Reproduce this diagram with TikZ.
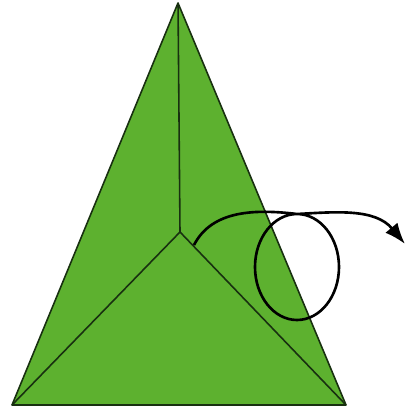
\documentclass[tikz,border=0pt]{standalone}
\usepackage{xcolor}
\usepackage{tikz}
\usetikzlibrary{calc,arrows.meta}
\definecolor{leafGreen}{HTML}{5DB12F}
\definecolor{edgeDark}{HTML}{183010}

\begin{document}
\begin{tikzpicture}[
        x=0.02cm, y=-0.02cm,
        face/.style={fill=leafGreen, draw=edgeDark, line width=0.9pt, line join=round},
        fold/.style={draw=edgeDark, line width=0.9pt},
        turn/.style={-{Latex[length=12pt,width=9pt]}, line width=1.5pt, draw=black}
    ]
        \useasboundingbox (0,0) rectangle (406,412);

        % --- corners of the pyramid ---
        \coordinate (apex) at (178,3);
        \coordinate (baseL) at (12,405);
        \coordinate (baseR) at (346,405);
        \coordinate (mid) at (180,232);

        % --- faces and fold lines ---
        \filldraw[face] (apex) -- (baseL) -- (baseR) -- cycle;
        \draw[fold] (mid) -- (apex);
        \draw[fold] (mid) -- (baseL);
        \draw[fold] (mid) -- (baseR);

        % --- rotation arrow with a loop ---
        \coordinate (turnStart) at (194,245);
        \coordinate (loopTop) at (297,214);
        \coordinate (turnEnd) at (405,244);
        \draw[turn] (turnStart) .. controls (212,210) and (255,209) .. (loopTop)
            arc[start angle=270, end angle=630, x radius=42, y radius=53]
            .. controls (335,212) and (375,208) .. (turnEnd);
    \end{tikzpicture}
\end{document}
